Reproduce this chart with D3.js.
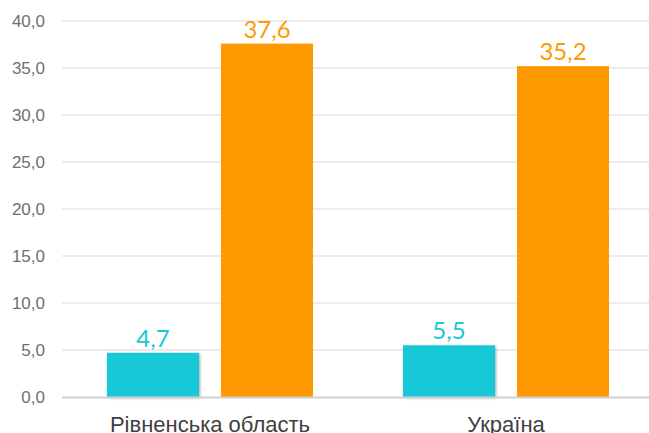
<!DOCTYPE html>
<html>
<head>
<meta charset="utf-8">
<script src="https://cdn.jsdelivr.net/npm/d3@7"></script>
<style>
  body { margin: 0; background: #fff; }
  svg { font-family: Lato, "Open Sans", sans-serif; }
  .grid line { stroke: #d9d9d9; stroke-width: 1; }
  .y-axis text { fill: #6f6f6f; font-size: 17px; font-weight: 300; }
  .x-axis text { fill: #404040; font-size: 22px; font-weight: 300; }
</style>
</head>
<body>
<div id="chart"></div>
<script>
// data
var categories = ["Рівненська область", "Україна"];
var seriesA = [4.7, 5.5];
var seriesB = [37.6, 35.2];
var yTicks = [0, 5, 10, 15, 20, 25, 30, 35, 40];
var colors = ["#17c8d8", "#ff9900"];

var W = 649, H = 433;
var margin = { top: 21, right: -5, bottom: 36, left: 62 };
var width = W - margin.left - margin.right,
    height = H - margin.top - margin.bottom;

var svg = d3.select("#chart").append("svg")
    .attr("width", W)
    .attr("height", H);

var defs = svg.append("defs");
var f = defs.append("filter").attr("id", "shadow")
    .attr("x", "-10%").attr("y", "-10%").attr("width", "130%").attr("height", "130%");
f.append("feDropShadow").attr("dx", 1).attr("dy", 1).attr("stdDeviation", 1.5)
    .attr("flood-color", "#000").attr("flood-opacity", 0.35);

var g = svg.append("g")
    .attr("transform", "translate(" + margin.left + "," + margin.top + ")");

var x = d3.scaleBand()
    .domain(categories)
    .range([0, width])
    .paddingInner(0)
    .paddingOuter(0);

var y = d3.scaleLinear()
    .domain([0, 40])
    .range([height, 0]);

// gridlines
g.append("g").attr("class", "grid")
    .selectAll("line")
    .data(yTicks.slice(1))
    .enter().append("line")
    .attr("x1", 0).attr("x2", width)
    .attr("y1", d => y(d)).attr("y2", d => y(d));

// y axis labels
var yAxis = d3.axisLeft(y)
    .tickValues(yTicks)
    .tickSize(0)
    .tickPadding(17)
    .tickFormat(d => d3.format(".1f")(d).replace(".", ","));
g.append("g").attr("class", "y-axis")
    .call(yAxis)
    .call(s => s.select(".domain").remove());

// bars
var barW = 92, gap = 22;
var groupW = barW * 2 + gap;

var series = [seriesA, seriesB];
series.forEach(function(vals, si) {
    var bars = g.selectAll(".bar-" + si)
        .data(vals)
        .enter().append("rect")
        .attr("class", "bar-" + si)
        .attr("x", (d, i) => x(categories[i]) + (x.bandwidth() - groupW) / 2 + si * (barW + gap))
        .attr("y", d => y(d))
        .attr("width", barW)
        .attr("height", d => height - y(d))
        .attr("fill", colors[si]);
    if (si === 0) bars.attr("filter", "url(#shadow)");

    g.selectAll(".lbl-" + si)
        .data(vals)
        .enter().append("text")
        .attr("class", "lbl-" + si)
        .attr("x", (d, i) => x(categories[i]) + (x.bandwidth() - groupW) / 2 + si * (barW + gap) + barW / 2)
        .attr("y", d => y(d) - 6)
        .attr("text-anchor", "middle")
        .attr("fill", colors[si])
        .style("font-size", "24px")
        .style("font-weight", 400)
        .text(d => d3.format(".1f")(d).replace(".", ","));
});

// baseline
g.append("line")
    .attr("x1", 0).attr("x2", width)
    .attr("y1", height + 0.5).attr("y2", height + 0.5)
    .attr("stroke", "#d0d0d0")
    .attr("stroke-width", 2);

// x axis labels
var xAxis = d3.axisBottom(x).tickSize(0).tickPadding(19);
g.append("g").attr("class", "x-axis")
    .attr("transform", "translate(0," + height + ")")
    .call(xAxis)
    .call(s => s.select(".domain").remove());
</script>
</body>
</html>
